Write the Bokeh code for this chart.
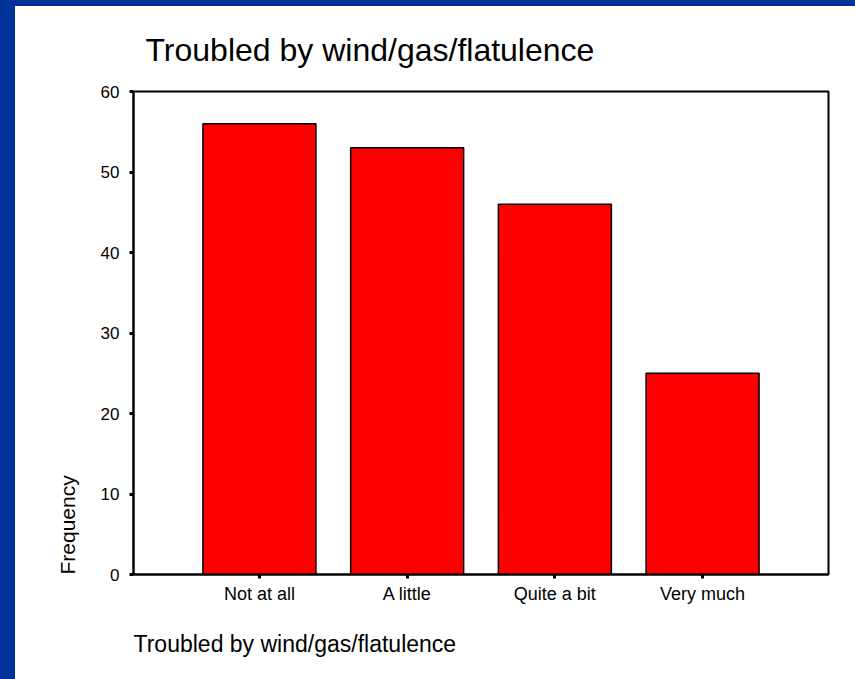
from bokeh.plotting import figure
from bokeh.models import FactorRange, Range1d, FixedTicker, Title, Div
from bokeh.layouts import column, row
from bokeh.embed import file_html
from bokeh.resources import INLINE

categories = ["Not at all", "A little", "Quite a bit", "Very much"]
frequencies = [56, 53, 46, 25]
y_ticks = [0, 10, 20, 30, 40, 50, 60]
chart_title = "Troubled by wind/gas/flatulence"
x_title = "Troubled by wind/gas/flatulence"
y_title = "Frequency"

FONT = "Liberation Sans"
BLUE = "#003399"

p = figure(
    width=840, height=673,
    x_range=FactorRange(factors=categories, range_padding=0.3525, range_padding_units="absolute"),
    y_range=Range1d(0, 60),
    output_backend="svg", toolbar_location=None,
    min_border_left=118, min_border_right=27, min_border_top=85, min_border_bottom=105,
    background_fill_color="white", border_fill_color="white",
    margin=0,
)

p.vbar(x=categories, top=frequencies, width=0.765, bottom=0,
       fill_color="#FF0000", line_color="black", line_width=1.5)

p.outline_line_color = "black"
p.outline_line_width = 2
p.outline_line_alpha = 1
p.xgrid.visible = False
p.ygrid.visible = False

for ax in (p.xaxis, p.yaxis):
    ax.axis_line_width = 2
    ax.axis_line_color = "black"
    ax.major_tick_line_width = 3
    ax.major_tick_line_color = "black"
    ax.major_tick_out = 4
    ax.major_tick_in = 0
    ax.minor_tick_line_color = None
    ax.major_label_text_font = FONT
    ax.major_label_text_color = "black"

p.yaxis.ticker = FixedTicker(ticks=y_ticks, minor_ticks=[])
p.yaxis.major_label_text_font_size = "17px"
p.yaxis.major_label_standoff = 10
p.xaxis.major_label_text_font_size = "18px"
p.xaxis.major_label_standoff = 5

p.title.text = chart_title
p.title.text_font = FONT
p.title.text_font_size = "32px"
p.title.text_font_style = "normal"
p.title.text_color = "black"
p.title.align = "left"
p.title.offset = 12
p.title.standoff = 47

p.add_layout(Title(text=y_title, align="left", text_font=FONT, text_font_size="21px",
                   text_font_style="normal", text_color="black", standoff=38), "left")
p.add_layout(Title(text=x_title, align="left", text_font=FONT, text_font_size="23px",
                   text_font_style="normal", text_color="black", standoff=44), "below")

top_strip = Div(text="", width=855, height=6, margin=0, styles={"background-color": BLUE})
left_strip = Div(text="", width=15, height=673, margin=0, styles={"background-color": BLUE})

layout = column(top_strip, row(left_strip, p, spacing=0, margin=0), spacing=0, margin=0)

open("out.html", "w").write(file_html(layout, INLINE))
